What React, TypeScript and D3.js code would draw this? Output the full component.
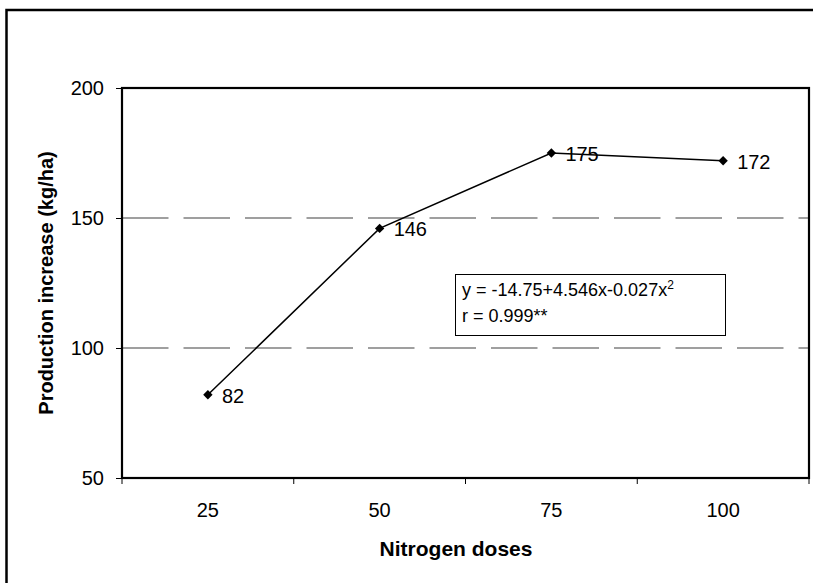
import React, { useRef, useEffect } from 'react';
import * as d3 from 'd3';

const doses = ['25', '50', '75', '100'];
const increase = [82, 146, 175, 172];
const yTicks = [50, 100, 150, 200];
const gridValues = [100, 150];
const equationText = 'y = -14.75+4.546x-0.027x';
const rText = 'r = 0.999**';

const App = () => {
  const ref = useRef<SVGSVGElement>(null);

  useEffect(() => {
    const svg = d3.select(ref.current);
    svg.selectAll('*').remove();

    const font = 'Arial, "Liberation Sans", sans-serif';
    const left = 122;
    const right = 809;
    const top = 88;
    const bottom = 478;

    // outer chart frame (only top/left visible in the reference)
    svg
      .append('rect')
      .attr('x', 6.5)
      .attr('y', 10)
      .attr('width', 900)
      .attr('height', 700)
      .attr('fill', 'white')
      .attr('stroke', '#000')
      .attr('stroke-width', 2.5);

    const x = d3.scaleBand().domain(doses).range([left, right]).padding(0);
    const y = d3.scaleLinear().domain([50, 200]).range([bottom, top]);

    // dashed gridlines
    svg
      .append('g')
      .selectAll('line')
      .data(gridValues)
      .enter()
      .append('line')
      .attr('x1', left)
      .attr('x2', right)
      .attr('y1', (d) => y(d))
      .attr('y2', (d) => y(d))
      .attr('stroke', '#808080')
      .attr('stroke-width', 1.5)
      .attr('stroke-dasharray', '46.5,15');

    // plot frame
    svg
      .append('rect')
      .attr('x', left)
      .attr('y', top)
      .attr('width', right - left)
      .attr('height', bottom - top)
      .attr('fill', 'none')
      .attr('stroke', '#000')
      .attr('stroke-width', 2.2);

    // y axis
    const yAxis = d3.axisLeft(y).tickValues(yTicks).tickSize(6).tickPadding(12);
    const yg = svg.append('g').attr('transform', `translate(${left},0)`).call(yAxis);
    yg.select('path').remove();
    yg.selectAll('line').attr('stroke', '#000').attr('stroke-width', 1);
    yg.selectAll('text').attr('font-size', '20px').attr('font-family', font).attr('fill', '#000');

    // x axis labels at band centres
    const xAxis = d3.axisBottom(x).tickSize(0).tickPadding(25);
    const xg = svg.append('g').attr('transform', `translate(0,${bottom})`).call(xAxis);
    xg.select('path').remove();
    xg.selectAll('text').attr('font-size', '20px').attr('font-family', font).attr('fill', '#000');

    // x tick marks at band boundaries
    const bounds = doses.map((d) => x(d) as number).concat([x.range()[1]]);
    svg
      .append('g')
      .selectAll('line')
      .data(bounds)
      .enter()
      .append('line')
      .attr('x1', (d) => d)
      .attr('x2', (d) => d)
      .attr('y1', bottom)
      .attr('y2', bottom + 6)
      .attr('stroke', '#000')
      .attr('stroke-width', 1);

    const cx = (i: number) => (x(doses[i]) as number) + x.bandwidth() / 2;

    // series line
    const line = d3
      .line<number>()
      .x((_, i) => cx(i))
      .y((d) => y(d));
    svg
      .append('path')
      .datum(increase)
      .attr('d', line)
      .attr('fill', 'none')
      .attr('stroke', '#000')
      .attr('stroke-width', 1.5);

    // diamond markers
    const diamond = d3.symbol().type(d3.symbolSquare).size(44);
    svg
      .append('g')
      .selectAll('path')
      .data(increase)
      .enter()
      .append('path')
      .attr('d', diamond)
      .attr('transform', (d, i) => `translate(${cx(i)},${y(d)}) rotate(45)`)
      .attr('fill', '#000');

    // value labels
    svg
      .append('g')
      .selectAll('text')
      .data(increase)
      .enter()
      .append('text')
      .attr('x', (_, i) => cx(i) + 14)
      .attr('y', (d) => y(d) + 8)
      .attr('font-size', '20px')
      .attr('font-family', font)
      .text((d) => d);

    // equation box
    svg
      .append('rect')
      .attr('x', 455.5)
      .attr('y', 274.5)
      .attr('width', 270)
      .attr('height', 61)
      .attr('fill', 'white')
      .attr('stroke', '#000')
      .attr('stroke-width', 1);

    const eq = svg
      .append('text')
      .attr('x', 462)
      .attr('y', 296)
      .attr('font-size', '18px')
      .attr('font-family', font);
    eq.append('tspan').text(equationText);
    eq.append('tspan').attr('font-size', '12px').attr('dy', -7).text('2');

    svg
      .append('text')
      .attr('x', 462)
      .attr('y', 322)
      .attr('font-size', '18px')
      .attr('font-family', font)
      .text(rText);

    // axis titles
    svg
      .append('text')
      .attr('x', 456)
      .attr('y', 556)
      .attr('text-anchor', 'middle')
      .attr('font-size', '21px')
      .attr('font-weight', 'bold')
      .attr('font-family', font)
      .text('Nitrogen doses');

    svg
      .append('text')
      .attr('transform', `translate(53,${(top + bottom) / 2}) rotate(-90)`)
      .attr('text-anchor', 'middle')
      .attr('font-size', '20px')
      .attr('font-weight', 'bold')
      .attr('font-family', font)
      .text('Production increase (kg/ha)');
  }, []);

  return (
    <svg
      ref={ref}
      width={813}
      height={583}
      style={{ position: 'absolute', left: 0, top: 0, background: 'white' }}
    ></svg>
  );
};

export default App;
